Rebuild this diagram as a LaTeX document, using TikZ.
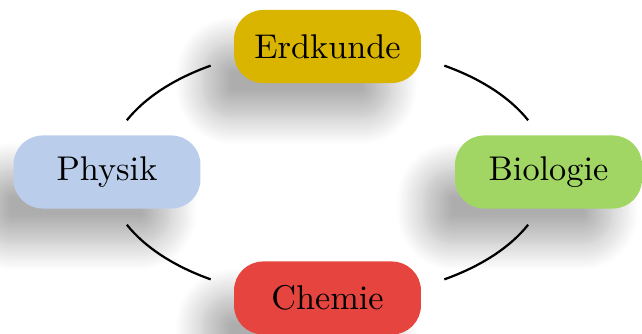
\documentclass[tikz,border=0pt]{standalone}
\usetikzlibrary{shadows.blur,calc}
\definecolor{cErd}{RGB}{218,181,0}
\definecolor{cPhy}{RGB}{186,206,236}
\definecolor{cBio}{RGB}{162,214,100}
\definecolor{cChe}{RGB}{229,69,62}
\tikzset{
  subj/.style={rounded corners=8.5pt, minimum width=54.5pt, minimum height=21.3pt,
    inner sep=0pt, font=\normalsize,
    blur shadow={shadow xshift=-9pt, shadow yshift=-10pt, shadow blur radius=8pt, shadow blur steps=16, shadow opacity=32}},
  link/.style={line width=0.65pt, black}
}
\begin{document}
\begin{tikzpicture}[x=0.2915pt, y=0.2915pt]
\useasboundingbox (0,0) rectangle (642,334);
\coordinate (c) at (327.5,161.5);
\node[subj, fill=cErd] (erd) at (327.5,287.5) {Erdkunde};
\node[subj, fill=cPhy] (phy) at (107,162) {Physik};
\node[subj, fill=cBio] (bio) at (548.5,162) {Biologie};
\node[subj, fill=cChe] (che) at (327.5,36) {Chemie};
\draw[link] ($(c)+(122:220.5 and 126)$) arc[start angle=122, end angle=155.5, x radius=220.5, y radius=126];
\draw[link] ($(c)+(24.5:220.5 and 126)$) arc[start angle=24.5, end angle=58, x radius=220.5, y radius=126];
\draw[link] ($(c)+(204.5:220.5 and 126)$) arc[start angle=204.5, end angle=238, x radius=220.5, y radius=126];
\draw[link] ($(c)+(302:220.5 and 126)$) arc[start angle=302, end angle=335.5, x radius=220.5, y radius=126];
\end{tikzpicture}
\end{document}
